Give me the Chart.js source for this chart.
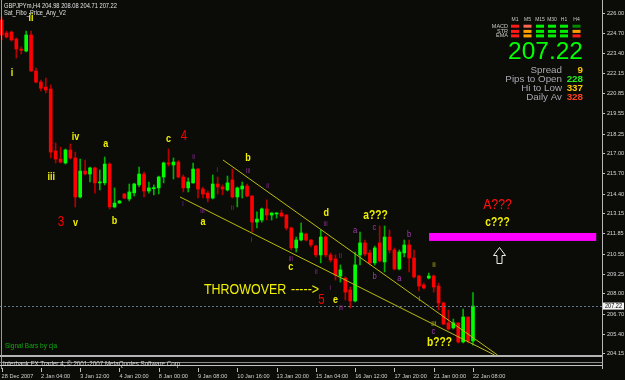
<!DOCTYPE html>
<html>
<head>
<meta charset="utf-8">
<script src="https://cdn.jsdelivr.net/npm/chart.js@4.4.1/dist/chart.umd.min.js"></script>
<style>
  html, body { margin: 0; padding: 0; background: #0b0c08; }
  canvas { display: block; }
</style>
</head>
<body>
<canvas id="chart" width="625" height="380"></canvas>
<script>
// GBPJPYm H4 bars, oldest first (bar index = position on the x axis)
const opens  = [225.57,224.74,224.80,224.35,223.70,223.58,224.61,222.30,221.59,221.27,
                221.14,217.17,216.65,216.40,217.23,216.72,214.22,215.88,215.69,216.08,
                215.12,215.12,216.33,213.58,213.83,214.41,214.09,214.48,214.99,215.69,
                214.60,214.75,214.80,215.50,216.40,216.27,216.46,215.50,214.80,215.12,
                216.01,214.73,214.47,214.15,215.05,214.86,214.67,215.31,214.22,214.73,
                214.92,214.28,212.61,212.74,213.45,213.06,213.13,213.19,213.06,212.23,
                210.95,211.46,211.84,211.46,211.07,210.50,211.65,210.50,210.24,209.15,
                209.02,208.25,207.55,210.50,211.27,210.63,209.99,211.27,210.05,211.65,
                210.82,209.60,210.63,211.14,210.30,209.15,208.57,209.02,209.15,208.51,
                207.42,206.14,205.82,206.14,204.92,206.52,204.98];
const highs  = [225.76,224.86,224.86,224.42,223.84,224.86,224.86,222.49,221.72,221.85,
                221.40,217.68,217.42,217.30,217.62,217.10,216.65,216.59,216.14,216.14,
                215.95,216.78,216.40,214.80,214.00,214.45,215.05,215.10,216.14,215.82,
                215.18,214.99,215.56,216.46,217.30,216.72,216.55,215.63,215.44,216.40,
                216.05,214.86,214.60,215.63,215.50,214.99,215.56,216.01,214.86,215.18,
                215.05,214.30,213.26,213.51,214.03,213.21,213.21,213.38,213.10,212.29,
                211.65,212.55,211.91,211.48,211.14,212.10,211.72,210.63,210.50,209.86,
                209.09,208.44,210.69,211.97,211.46,210.82,211.07,212.36,212.36,212.10,
                210.95,210.82,211.46,211.46,210.82,209.21,208.70,209.34,209.21,208.70,
                207.48,206.97,206.39,206.14,207.03,206.52,208.08];
const lows   = [224.29,224.42,224.22,223.13,223.39,223.52,222.27,221.53,221.02,220.89,
                216.72,216.40,216.40,216.33,216.65,213.58,214.15,215.63,215.18,214.47,
                214.67,214.99,213.45,213.52,213.80,214.10,213.96,214.28,214.86,214.22,
                214.47,214.35,214.41,215.12,216.20,215.37,215.44,214.54,214.54,215.10,
                214.15,214.15,213.90,214.09,214.41,214.35,214.60,214.15,213.58,214.15,
                214.22,211.97,212.23,212.61,212.74,212.74,212.87,212.93,212.10,210.82,
                210.69,211.40,211.40,211.01,210.37,209.99,210.37,210.05,208.89,208.76,
                207.61,207.10,207.48,209.86,210.44,209.86,209.86,210.05,209.41,210.63,
                209.54,209.54,210.37,209.41,209.02,208.19,208.32,208.96,208.12,206.97,
                206.01,205.69,205.75,204.85,204.85,204.85,204.71];
const closes = [224.61,224.48,224.29,223.71,223.63,224.61,222.30,221.59,221.20,221.08,
                217.10,216.65,216.46,217.23,216.72,214.22,215.88,215.69,216.08,215.12,
                215.18,216.33,213.58,213.83,213.96,214.15,214.54,215.05,215.69,214.60,
                214.80,214.80,215.50,216.40,216.33,216.46,215.50,214.80,215.18,216.01,
                214.73,214.41,214.15,215.05,214.86,214.73,215.12,214.22,214.80,214.92,
                214.28,212.61,212.80,213.45,213.06,213.19,213.19,213.00,212.23,210.95,
                211.46,211.91,211.46,211.14,210.50,211.65,210.50,210.18,209.21,209.54,
                208.12,207.55,209.86,211.27,210.56,209.99,210.95,210.12,211.65,210.82,
                209.60,210.69,211.14,210.30,209.09,208.51,208.38,209.15,208.44,207.42,
                206.07,205.75,206.14,204.92,206.52,204.98,207.22];

// time axis: bar index of each label and its text
const timeTickBars = [0, 8, 16, 24, 32, 40, 48, 56, 64, 72, 80, 88, 96];
const timeTickLabels = ['28 Dec 2007', '2 Jan 04:00', '3 Jan 12:00', '4 Jan 20:00', '8 Jan 00:00',
                        '9 Jan 08:00', '10 Jan 16:00', '13 Jan 20:00', '15 Jan 04:00', '16 Jan 12:00',
                        '17 Jan 20:00', '21 Jan 00:00', '22 Jan 08:00'];
// price axis labels
const priceTicks = [226.00, 224.70, 223.40, 222.15, 220.85, 219.55, 218.25, 217.00, 215.70,
                    214.40, 213.15, 211.85, 210.55, 209.25, 208.00, 206.70, 205.40, 204.15];

const lastPrice = 207.22;

// channel lines [bar, price]
const upperLine = [[45.09, 216.59], [101.0, 204.08]];
const lowerLine = [[36.33, 214.22], [100.4, 204.08]];

// target zone and arrow
const zoneBars = [87.05, 121.1];
const zonePrices = [211.40, 211.91];
const arrowAt = [101.3, 211.01];

// wave counts: text, bar, price, kind
const waveLabels = [
  ['ii', 6.0, 225.73, 'y'], ['i', 2.1, 222.20, 'y'], ['iii', 10.1, 215.50, 'y'],
  ['iv', 15.05, 218.07, 'y'], ['v', 15.05, 212.55, 'y'], ['a', 21.2, 217.59, 'y'],
  ['b', 23.0, 212.65, 'y'], ['c', 34.0, 217.94, 'y'], ['a', 41.0, 212.61, 'y'],
  ['b', 50.2, 216.72, 'y'], ['d', 66.1, 213.22, 'y'], ['c', 58.9, 209.73, 'y'],
  ['e', 68.0, 207.64, 'y'],
  ['3', 12.1, 212.61, 'r'], ['4', 37.15, 218.10, 'r'], ['5', 65.15, 207.61, 'r'],
  ['A???', 101.0, 213.74, 'rq'],
  ['a???', 76.15, 213.03, 'q'], ['b???', 89.2, 204.89, 'q'], ['c???', 101.0, 212.58, 'q'],
  ['ii', 39.1, 216.78, 'p'], ['i', 36.95, 213.74, 'p'], ['iii', 40.9, 213.32, 'p'],
  ['i', 43.9, 215.95, 'p'], ['iii', 50.2, 215.89, 'p'], ['ii', 47.0, 213.51, 'p'],
  ['ii', 54.2, 214.95, 'p'], ['i', 50.9, 211.43, 'p'], ['i', 61.0, 212.39, 'p'],
  ['iii', 66.0, 212.45, 'p'], ['iii', 58.9, 210.24, 'p'], ['ii', 64.1, 209.37, 'p'],
  ['ii', 69.0, 210.43, 'p'], ['i', 66.9, 208.38, 'p'], ['iii', 69.1, 207.10, 'p'],
  ['a', 72.0, 212.07, 'pl'], ['c', 75.95, 212.23, 'pl'], ['b', 75.95, 209.09, 'pl'],
  ['b', 83.0, 211.78, 'pl'], ['a', 81.0, 209.02, 'pl'], ['c', 87.95, 205.56, 'pl'],
  ['ii', 88.05, 209.82, 'o'], ['i', 85.1, 207.68, 'o'], ['iii', 88.05, 206.07, 'o'],
  ['THROWOVER', 41.2, 208.25, 't'], ['----->', 58.95, 208.25, 't']
];

// dashboard
const tfNames = ['M1', 'M5', 'M15', 'M30', 'H1', 'H4'];
const signalRows = ['MACD', 'STR', 'EMA'];
const signalColors = [
  ['#ff1a1a', '#ff6655', '#00ee00', '#00ee00', '#00ee00', '#008a00'],
  ['#ff1a1a', '#ffa000', '#00ee00', '#00ee00', '#00ee00', '#ffa000'],
  ['#ff1a1a', '#ffa000', '#00ee00', '#00ee00', '#00ee00', '#ff1a1a']
];
const statLabels = ['Spread', 'Pips to Open', 'Hi to Low', 'Daily Av'];
const statValues = ['9', '228', '337', '328'];
const statColors = ['#ffc800', '#22ee22', '#ffc800', '#ff4020'];

const SANS = '"Liberation Sans", Arial, sans-serif';

const labelStyle = {
  y:  { font: 'bold 11px ' + SANS, color: '#f0f000', sx: 0.82 },
  q:  { font: 'bold 12.5px ' + SANS, color: '#f0f000', sx: 0.82 },
  r:  { font: '14px ' + SANS, color: '#ff0000', sx: 0.82 },
  rq: { font: '15px ' + SANS, color: '#ff1010', sx: 0.82 },
  p:  { font: '7px ' + SANS, color: '#8e2a92', sx: 0.9 },
  pl: { font: '9px ' + SANS, color: '#a23bb0', sx: 0.85 },
  o:  { font: 'bold 7px ' + SANS, color: '#8c8c14', sx: 0.9 },
  t:  { font: '14px ' + SANS, color: '#f2f200', sx: 0.89, align: 'left' }
};

function drawText(ctx, s, x, y, o) {
  ctx.save();
  ctx.font = o.font;
  ctx.fillStyle = o.color;
  ctx.textBaseline = o.baseline || 'middle';
  ctx.textAlign = o.align || 'center';
  let sx = o.sx || 1;
  if (o.width) sx = o.width / ctx.measureText(s).width;
  ctx.translate(x, y);
  ctx.scale(sx, 1);
  ctx.fillText(s, 0, 0);
  ctx.restore();
}

const overlay = {
  id: 'overlay',
  beforeDraw(chart) {
    const ctx = chart.ctx;
    ctx.save();
    ctx.fillStyle = '#0b0c08';
    ctx.fillRect(0, 0, chart.width, chart.height);
    ctx.restore();
  },
  afterDatasetsDraw(chart) {
    const { ctx, chartArea: a, scales: { x, y } } = chart;
    ctx.save();
    // last price line
    const py = Math.round(y.getPixelForValue(lastPrice)) + 0.5;
    ctx.strokeStyle = '#66788c';
    ctx.lineWidth = 1;
    ctx.setLineDash([2, 2]);
    ctx.beginPath(); ctx.moveTo(a.left, py); ctx.lineTo(a.right, py); ctx.stroke();
    ctx.setLineDash([]);

    // target zone
    const zx1 = x.getPixelForValue(zoneBars[0]), zx2 = x.getPixelForValue(zoneBars[1]);
    const zy1 = y.getPixelForValue(zonePrices[1]), zy2 = y.getPixelForValue(zonePrices[0]);
    ctx.fillStyle = '#ff00ff';
    ctx.fillRect(zx1, zy1, zx2 - zx1, zy2 - zy1);

    // hollow up arrow
    const ax = Math.round(x.getPixelForValue(arrowAt[0])) + 0.5;
    const ay = Math.round(y.getPixelForValue(arrowAt[1])) + 0.5;
    const pts = [[0, 0], [6, 8], [2.5, 8], [2.5, 16], [-2.5, 16], [-2.5, 8], [-6, 8]];
    ctx.beginPath();
    pts.forEach(([dx, dy], i) => i ? ctx.lineTo(ax + dx, ay + dy) : ctx.moveTo(ax + dx, ay + dy));
    ctx.closePath();
    ctx.fillStyle = '#0b0c08';
    ctx.fill();
    ctx.strokeStyle = '#f0f0f0';
    ctx.stroke();

    // wave labels
    waveLabels.forEach(([s, b, p, kind]) => {
      drawText(ctx, s, x.getPixelForValue(b), y.getPixelForValue(p), labelStyle[kind]);
    });
    ctx.restore();
  },
  afterDraw(chart) {
    const { ctx, chartArea: a, scales: { x, y } } = chart;
    ctx.save();
    // frame
    ctx.fillStyle = '#9a9a9a';
    ctx.fillRect(1, 0, 1, 369);
    ctx.fillStyle = '#b8b8b8';
    ctx.fillRect(a.right, 0, 1, 369);
    ctx.fillStyle = '#b4b4b4';
    ctx.fillRect(0, a.bottom, a.right, 2);
    ctx.fillStyle = '#8c8c8c';
    ctx.fillRect(0, 362, a.right, 1);
    ctx.fillStyle = '#c4c4c4';
    ctx.fillRect(0, 365, a.right, 1);
    drawText(ctx, 'Interbank FX Trader 4, \u00a9 2001-2007 MetaQuotes Software Corp.', 3, 364,
      { font: '7px ' + SANS, color: '#d8d8d8', align: 'left', width: 179 });

    // time tick marks
    ctx.fillStyle = '#c0c0c0';
    x.ticks.forEach(t => {
      ctx.fillRect(Math.round(x.getPixelForValue(t.value)), 368, 1, 4);
    });

    // last price box on the axis
    const py = y.getPixelForValue(lastPrice);
    ctx.fillStyle = '#f4f4f4';
    ctx.fillRect(a.right + 1, py - 3.5, 21, 7);
    drawText(ctx, lastPrice.toFixed(2), a.right + 11.5, py, { font: '6.5px ' + SANS, color: '#000000', width: 17 });

    // header text
    drawText(ctx, 'GBPJPYm,H4 204.98 208.08 204.71 207.22', 4, 6.5,
      { font: '7px ' + SANS, color: '#e0e0e0', align: 'left', width: 113 });
    drawText(ctx, 'Sat_Fibo_Price_Any_V2', 4, 13.5,
      { font: '7px ' + SANS, color: '#e0e0e0', align: 'left', width: 62 });
    drawText(ctx, 'Signal Bars by cja', 5, 346,
      { font: '7px ' + SANS, color: '#10a810', align: 'left', width: 52 });

    // dashboard
    const colX = [511, 523.5, 536, 548, 560, 572.5];
    const rowY = [24.7, 29.9, 34.4];
    tfNames.forEach((n, i) => drawText(ctx, n, colX[i] + 4, 20, { font: '5px ' + SANS, color: '#c8c8c8' }));
    signalRows.forEach((n, r) => {
      drawText(ctx, n, 508, rowY[r] + 1.5, { font: '5.5px ' + SANS, color: '#c8c8c8', align: 'right' });
      signalColors[r].forEach((c, i) => {
        ctx.fillStyle = c;
        ctx.fillRect(colX[i], rowY[r], 8, 3);
      });
    });
    drawText(ctx, lastPrice.toFixed(2), 583, 59.3,
      { font: '24.5px ' + SANS, color: '#00ff00', align: 'right', baseline: 'alphabetic' });
    const statY = [72.7, 81.9, 91.2, 100.4];
    statLabels.forEach((s, i) => {
      drawText(ctx, s, 562, statY[i], { font: '9.8px ' + SANS, color: '#a8a8b0', align: 'right', baseline: 'alphabetic' });
      drawText(ctx, statValues[i], 583, statY[i], { font: 'bold 9.8px ' + SANS, color: statColors[i], align: 'right', baseline: 'alphabetic' });
    });
    ctx.restore();
  }
};

const upColor = '#00ff00', downColor = '#ff0000';
const isUp = i => closes[i] >= opens[i];

const wickData = opens.map((o, i) => ({ x: i, y: [lows[i], highs[i]] }));
const bodyData = opens.map((o, i) => ({ x: i, y: [Math.min(o, closes[i]), Math.max(o, closes[i])] }));

new Chart(document.getElementById('chart'), {
  type: 'bar',
  data: {
    datasets: [
      {
        label: 'wicks', data: wickData, order: 2, grouped: false, barThickness: 1,
        backgroundColor: c => isUp(c.dataIndex) ? '#00b000' : '#b40000',
        borderWidth: 0, borderSkipped: false
      },
      {
        label: 'bodies', data: bodyData, order: 1, grouped: false, barThickness: 3, minBarLength: 1,
        backgroundColor: c => isUp(c.dataIndex) ? upColor : downColor,
        borderWidth: 0, borderSkipped: false
      },
      {
        type: 'line', label: 'upper', order: 0,
        data: upperLine.map(([b, p]) => ({ x: b, y: p })),
        borderColor: '#bcbc10', borderWidth: 1, pointRadius: 0, fill: false
      },
      {
        type: 'line', label: 'lower', order: 0,
        data: lowerLine.map(([b, p]) => ({ x: b, y: p })),
        borderColor: '#bcbc10', borderWidth: 1, pointRadius: 0, fill: false
      }
    ]
  },
  options: {
    responsive: false,
    animation: false,
    devicePixelRatio: 1,
    events: [],
    layout: { padding: { top: 2, left: 0, right: 0, bottom: 0 } },
    plugins: { legend: { display: false }, tooltip: { enabled: false } },
    scales: {
      x: {
        type: 'linear', min: -0.33, max: 122.28, offset: false, bounds: 'data',
        grid: { display: false, drawTicks: false },
        border: { display: false },
        ticks: {
          autoSkip: false, maxRotation: 0, minRotation: 0, align: 'start', padding: 18,
          color: '#d0d0d0', font: { family: SANS, size: 5.6 },
          callback: (v, i) => timeTickLabels[i]
        },
        afterBuildTicks: s => { s.ticks = timeTickBars.map(v => ({ value: v })); },
        afterFit: s => { s.height = 25; s.paddingLeft = 0; s.paddingRight = 0; }
      },
      y: {
        position: 'right', min: 204.082, max: 226.725, bounds: 'data',
        grid: { display: true, drawOnChartArea: false, drawTicks: true, tickLength: 3, color: '#c0c0c0' },
        border: { display: false },
        ticks: {
          padding: 2, color: '#d8d8d8', font: { family: SANS, size: 5.6 },
          callback: v => Number(v).toFixed(2)
        },
        afterBuildTicks: s => { s.ticks = priceTicks.map(v => ({ value: v })); },
        afterFit: s => { s.width = 23; s.paddingTop = 0; s.paddingBottom = 0; }
      }
    }
  },
  plugins: [overlay]
});
</script>
</body>
</html>
